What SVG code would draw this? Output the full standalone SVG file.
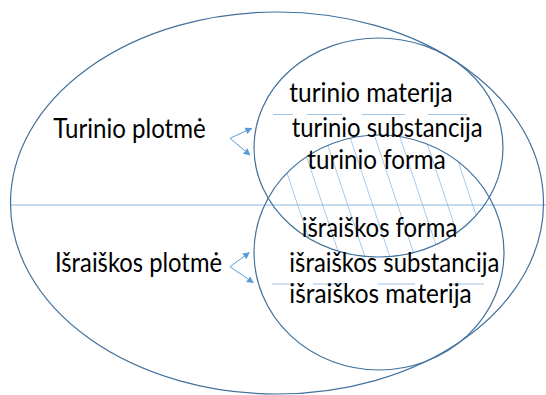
<svg xmlns="http://www.w3.org/2000/svg" width="546" height="395" viewBox="0 0 546 395">
<style>
.ring{fill:none;stroke:#41719c;stroke-width:1.2}
.hatch{stroke:#9dc3e6;stroke-width:0.9}
.dash{stroke:#9dc3e6;stroke-width:1}
.arr{stroke:#5b9bd5;stroke-width:1;fill:none;marker-end:url(#ah)}
.t{font-family:Lato,"Open Sans","Liberation Sans",sans-serif;font-size:26px;fill:#000}
</style>
<defs>
<marker id="ah" viewBox="0 0 10 10" refX="9" refY="5" markerWidth="7" markerHeight="7" markerUnits="userSpaceOnUse" orient="auto">
<path d="M0,0 L10,5 L0,10 z" fill="#5b9bd5"/>
</marker>
<clipPath id="cu"><ellipse cx="378.5" cy="147.5" rx="124.5" ry="109.5"/></clipPath>
<clipPath id="cl"><ellipse cx="379" cy="252.5" rx="125" ry="117.5"/></clipPath>
</defs>
<rect width="546" height="395" fill="#fff"/>
<g id="hatching" clip-path="url(#cu)">
<g clip-path="url(#cl)">
<line class="hatch" x1="271" y1="125" x2="321" y2="275"/>
<line class="hatch" x1="296" y1="125" x2="346" y2="275"/>
<line class="hatch" x1="321" y1="125" x2="371" y2="275"/>
<line class="hatch" x1="346" y1="125" x2="396" y2="275"/>
<line class="hatch" x1="371" y1="125" x2="421" y2="275"/>
<line class="hatch" x1="396" y1="125" x2="446" y2="275"/>
<line class="hatch" x1="421" y1="125" x2="471" y2="275"/>
<line class="hatch" x1="446" y1="125" x2="496" y2="275"/>
</g>
</g>
<g id="divider"><line x1="10.5" y1="205" x2="546" y2="205" stroke="#8fb4dd" stroke-width="1"/></g>
<g id="outer"><ellipse class="ring" cx="277" cy="203" rx="266.5" ry="191"/></g>
<g id="upper"><ellipse class="ring" cx="378.5" cy="147.5" rx="124.5" ry="109.5"/></g>
<g id="lower"><ellipse class="ring" cx="379" cy="252.5" rx="125" ry="117.5"/></g>
<g id="dashes">
<line class="dash" x1="273" y1="114.5" x2="293" y2="114.5"/>
<line class="dash" x1="307" y1="114.5" x2="342" y2="114.5"/>
<line class="dash" x1="362" y1="114.5" x2="405" y2="114.5"/>
<line class="dash" x1="428" y1="114.5" x2="467" y2="114.5"/>
<line class="dash" x1="272" y1="284" x2="295" y2="284"/>
<line class="dash" x1="313" y1="284" x2="344" y2="284"/>
<line class="dash" x1="378" y1="284" x2="415" y2="284"/>
<line class="dash" x1="449" y1="284" x2="484" y2="284"/>
</g>
<g id="connectors">
<line class="arr" x1="230" y1="138.3" x2="251.7" y2="128.3"/>
<line class="arr" x1="230" y1="138.3" x2="250" y2="155"/>
<line class="arr" x1="230" y1="266.7" x2="249.3" y2="252.7"/>
<line class="arr" x1="230" y1="266.7" x2="253.3" y2="282.7"/>
</g>
<g id="label-turinio"><text class="t" x="53.3" y="138" textLength="152.4" lengthAdjust="spacingAndGlyphs">Turinio plotmė</text></g>
<g id="label-israiskos"><text class="t" x="55" y="271.7" textLength="167" lengthAdjust="spacingAndGlyphs">Išraiškos plotmė</text></g>
<g id="t-materija"><text class="t" x="289.3" y="102.3" textLength="163.4" lengthAdjust="spacingAndGlyphs">turinio materija</text></g>
<g id="t-substancija"><text class="t" x="291.7" y="136.7" textLength="191" lengthAdjust="spacingAndGlyphs">turinio substancija</text></g>
<g id="t-forma"><text class="t" x="307.3" y="169.3" textLength="138.4" lengthAdjust="spacingAndGlyphs">turinio forma</text></g>
<g id="i-forma"><text class="t" x="301.7" y="237.3" textLength="155.6" lengthAdjust="spacingAndGlyphs">išraiškos forma</text></g>
<g id="i-substancija"><text class="t" x="289.3" y="271.7" textLength="210" lengthAdjust="spacingAndGlyphs">išraiškos substancija</text></g>
<g id="i-materija"><text class="t" x="289.3" y="303.3" textLength="182.4" lengthAdjust="spacingAndGlyphs">išraiškos materija</text></g>
</svg>
